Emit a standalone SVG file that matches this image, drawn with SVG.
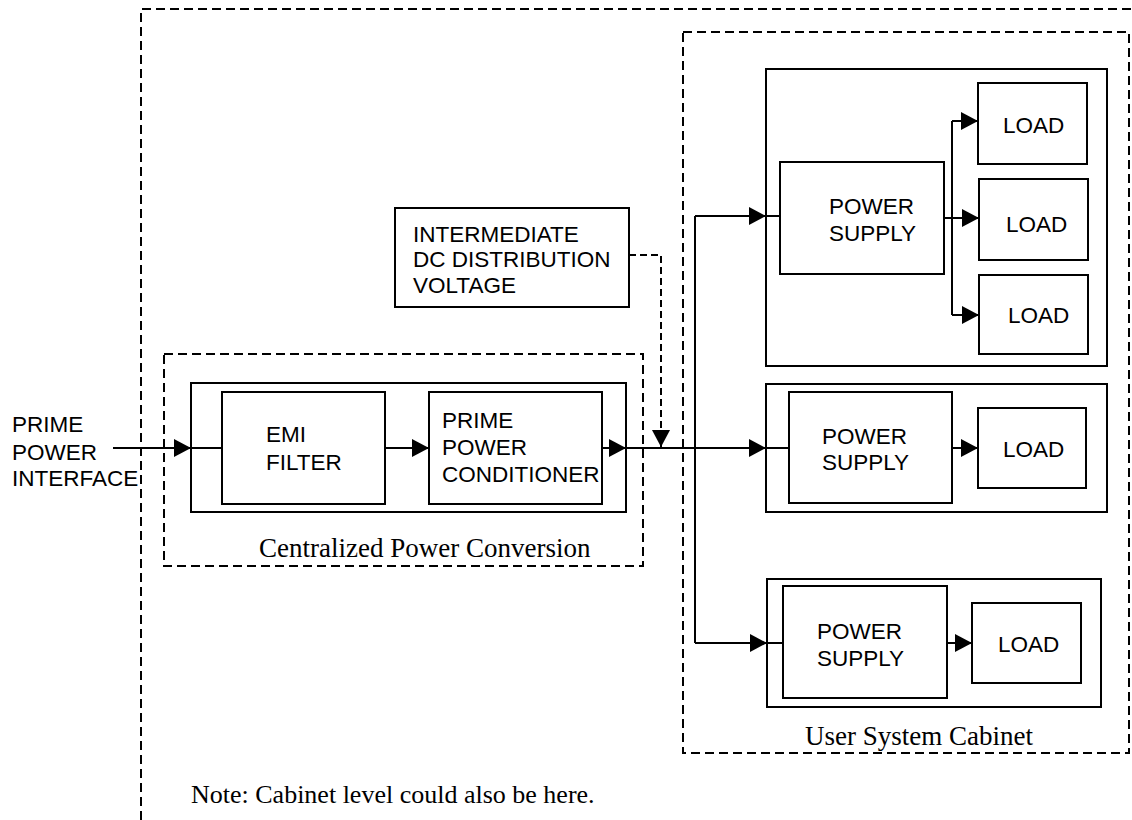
<svg xmlns="http://www.w3.org/2000/svg" width="1132" height="820" viewBox="0 0 1132 820">
<defs>
<marker id="arr" markerUnits="userSpaceOnUse" markerWidth="17" markerHeight="18" refX="17" refY="9" orient="auto"><path d="M0,0 L17,9 L0,18 z" fill="#000"/></marker>
<style>
.box{fill:#fff;stroke:#000;stroke-width:2}
.dash{fill:none;stroke:#000;stroke-width:2;stroke-dasharray:9 5}
.ln{fill:none;stroke:#000;stroke-width:2}
.ar{fill:none;stroke:#000;stroke-width:2;marker-end:url(#arr)}
.dar{fill:none;stroke:#000;stroke-width:2;stroke-dasharray:7 4;marker-end:url(#arr)}
.t{font-family:"Liberation Sans",Arial,sans-serif;font-size:22.5px;fill:#000}
.s{font-family:"Liberation Serif","Times New Roman",serif;font-size:27px;fill:#000}
</style>
</defs>
<rect width="1132" height="820" fill="#fff"/>
<g id="outer-frame"><path class="dash" d="M141,820 V9 H1132"/></g>
<g id="user-system-cabinet"><rect class="dash" x="683" y="32" width="446" height="721"/><text class="s" x="805" y="745">User System Cabinet</text></g>
<g id="centralized-power-conversion"><rect class="dash" x="164" y="354" width="479" height="212"/><text class="s" x="259" y="557">Centralized Power Conversion</text></g>
<g id="conversion-box"><rect class="box" x="191" y="383" width="435" height="129"/></g>
<g id="emi-filter"><rect class="box" x="222" y="392" width="163" height="112"/><text class="t" x="266" y="442">EMI</text><text class="t" x="266" y="470">FILTER</text></g>
<g id="prime-power-conditioner"><rect class="box" x="429" y="392" width="173" height="112"/><text class="t" x="442" y="428">PRIME</text><text class="t" x="442" y="455">POWER</text><text class="t" x="442" y="482">CONDITIONER</text></g>
<g id="prime-power-interface"><text class="t" x="12" y="432">PRIME</text><text class="t" x="12" y="460">POWER</text><text class="t" x="12" y="486">INTERFACE</text></g>
<g id="intermediate-dc"><rect class="box" x="395" y="208" width="234" height="99"/><text class="t" x="413" y="242">INTERMEDIATE</text><text class="t" x="413" y="267">DC DISTRIBUTION</text><text class="t" x="413" y="293">VOLTAGE</text></g>
<g id="cabinet-1"><rect class="box" x="766" y="69" width="341" height="297"/></g>
<g id="power-supply-1"><rect class="box" x="780" y="162" width="164" height="112"/><text class="t" x="829" y="214">POWER</text><text class="t" x="829" y="241">SUPPLY</text></g>
<g id="load-1a"><rect class="box" x="978" y="83" width="109" height="81"/><text class="t" x="1003" y="133">LOAD</text></g>
<g id="load-1b"><rect class="box" x="979" y="179" width="109" height="81"/><text class="t" x="1006" y="232">LOAD</text></g>
<g id="load-1c"><rect class="box" x="979" y="275" width="109" height="79"/><text class="t" x="1008" y="323">LOAD</text></g>
<g id="cabinet-2"><rect class="box" x="766" y="384" width="341" height="128"/></g>
<g id="power-supply-2"><rect class="box" x="789" y="392" width="163" height="111"/><text class="t" x="822" y="444">POWER</text><text class="t" x="822" y="470">SUPPLY</text></g>
<g id="load-2"><rect class="box" x="978" y="408" width="108" height="80"/><text class="t" x="1003" y="457">LOAD</text></g>
<g id="cabinet-3"><rect class="box" x="767" y="579" width="334" height="128"/></g>
<g id="power-supply-3"><rect class="box" x="783" y="586" width="164" height="112"/><text class="t" x="817" y="639">POWER</text><text class="t" x="817" y="666">SUPPLY</text></g>
<g id="load-3"><rect class="box" x="972" y="603" width="109" height="80"/><text class="t" x="998" y="652">LOAD</text></g>
<g id="note"><text class="s" x="191" y="803" style="font-size:26px">Note: Cabinet level could also be here.</text></g>
<g id="connectors">
<path class="ar" d="M113,448 H191"/>
<path class="ln" d="M191,448 H222"/>
<path class="ar" d="M385,448 H429"/>
<path class="ar" d="M602,448 H626"/>
<path class="ar" d="M626,448 H766"/>
<path class="ln" d="M766,448 H789"/>
<path class="dar" d="M629,255 H661 V447"/>
<path class="ln" d="M695,216 V643"/>
<path class="ar" d="M695,216 H766"/>
<path class="ln" d="M766,216 H780"/>
<path class="ar" d="M695,643 H767"/>
<path class="ln" d="M767,643 H783"/>
<path class="ar" d="M944,218 H979"/>
<path class="ln" d="M952,121 V315"/>
<path class="ar" d="M952,121 H978"/>
<path class="ar" d="M952,315 H979"/>
<path class="ar" d="M952,448 H978"/>
<path class="ar" d="M947,643 H972"/>
</g>
</svg>
